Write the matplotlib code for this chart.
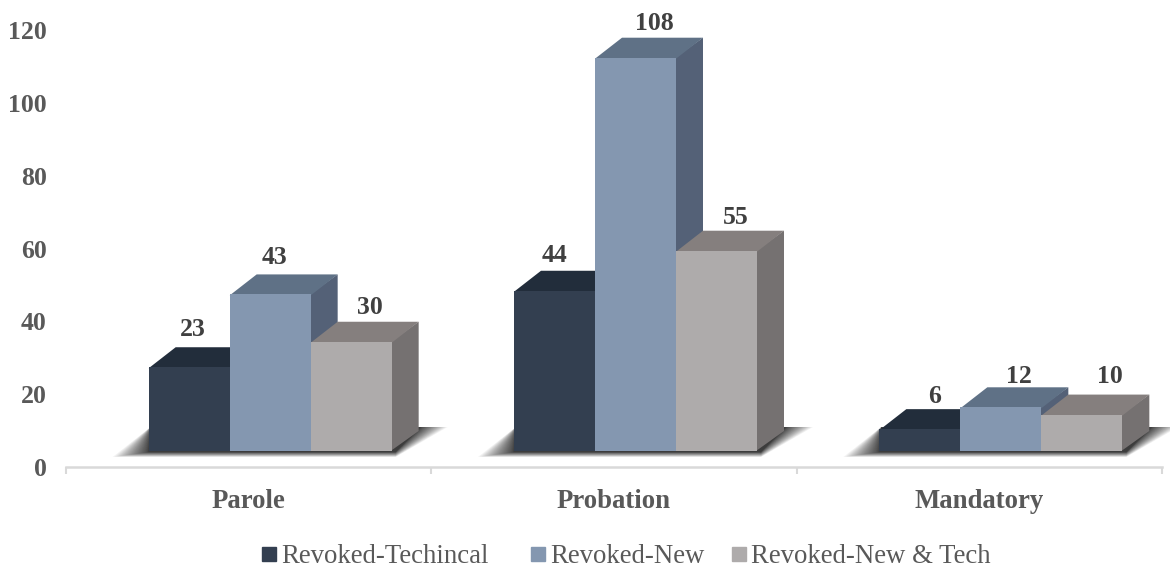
import matplotlib
matplotlib.use("Agg")
import matplotlib.pyplot as plt
from matplotlib.lines import Line2D

plt.rcParams['font.family'] = ['Liberation Serif', 'DejaVu Serif']

categories = ['Parole', 'Probation', 'Mandatory']
series_names = ['Revoked-Techincal', 'Revoked-New', 'Revoked-New & Tech']
techincal = [23, 44, 6]
new = [43, 108, 12]
new_tech = [30, 55, 10]
yticks = [0, 20, 40, 60, 80, 100, 120]

front = ['#333f50', '#8497b0', '#aeabab']
top = ['#222d3b', '#5f7186', '#857f7e']
side = ['#232c38', '#546177', '#757171']

# label nudges in pixels (x, y above the front top edge)
nudge = [[(4, 37.5), (4, 36.5), (19, 34.5)],
         [(0, 35.5), (19, 34.5), (19, 33.5)],
         [(15, 32.5), (18, 30.5), (28, 38.5)]]
# left pixel of each legend entry, they are not evenly spaced in the original
legend_x = [262, 531, 732]

W, H = 1170, 567
fig = plt.figure(figsize=(W / 100, H / 100), dpi=100)
ax = fig.add_axes([66 / W, 1 - 467 / H, (1162 - 66) / W, (467 - 30) / H])
ax.set_xlim(-0.5, 2.5)
ax.set_ylim(0, 120)

px = 3 / (1162 - 66)     # data units per pixel, x
py = 120 / (467 - 30)    # data units per pixel, y
bar_w = 81 * px
dx, dy = 27 * px, 20 * py
floor = 16 * py
shift = 21.5 * px

for i, cat in enumerate(categories):
    left = i + shift - 1.5 * bar_w
    right = left + 3 * bar_w
    # soft floor shadow, built from stacked translucent shapes, denser near the bars
    steps = 40
    for s in range(steps):
        k = (1 - s / steps) ** 2
        low = floor - (1 + 5 * k) * py
        ax.fill([left - 36 * k * px, right + 4 * px, right + dx + 2 * px + 27 * k * px,
                 right + dx, left + dx, left + 2 * px],
                [low, low, floor + dy + 4 * py, floor + dy + 4 * py, floor + dy,
                 floor + 24 * py],
                color='#2a2a2a', alpha=0.05, lw=0, zorder=1, clip_on=False)

zo = 2
for i, cat in enumerate(categories):
    for j, vals in enumerate([techincal, new, new_tech]):
        x0 = i + shift - 1.5 * bar_w + j * bar_w
        x1 = x0 + bar_w
        y0 = floor
        y1 = floor + vals[i]
        # side and top run 1px under the front face so no seam shows
        ax.fill([x1 - px, x1 + dx, x1 + dx, x1 - px], [y0, y0 + dy, y1 + dy, y1],
                color=side[j], lw=0, zorder=zo)
        ax.fill([x0, x1, x1 + dx, x0 + dx], [y1 - py, y1 - py, y1 + dy, y1 + dy],
                color=top[j], lw=0, zorder=zo)
        ax.bar((x0 + x1) / 2, vals[i], bottom=y0, width=bar_w, color=front[j],
               lw=0, zorder=zo)
        zo += 1
        nx, ny = nudge[i][j]
        ax.text((x0 + x1) / 2 + nx * px, y1 + ny * py, str(vals[i]), ha='center',
                va='center', fontsize=18.5, fontweight='bold', color='#404040', zorder=50)

for s in ['left', 'right', 'top']:
    ax.spines[s].set_visible(False)
ax.spines['bottom'].set_color('#d9d9d9')
ax.spines['bottom'].set_linewidth(1.8)

ax.set_xticks([-0.5, 0.5, 1.5, 2.5])
ax.set_xticklabels([])
ax.tick_params(axis='x', length=5, width=1.5, color='#d9d9d9')
ax.set_xticks(range(3), categories, minor=True)
ax.tick_params(axis='x', which='minor', length=0, pad=16, labelsize=19.3, labelcolor='#595959')
for t in ax.get_xticklabels(minor=True):
    t.set_fontweight('bold')

ax.set_yticks(yticks)
ax.tick_params(axis='y', length=0, pad=14, labelsize=18.5, labelcolor='#595959')
for t in ax.get_yticklabels():
    t.set_fontweight('bold')

for name, c, lx in zip(series_names, front, legend_x):
    h = Line2D([], [], ls='', marker='s', ms=9.4, color=c)
    fig.legend([h], [name], loc='center left', bbox_to_anchor=(lx / W, 1 - 556.5 / H),
               frameon=False, fontsize=19.3, labelcolor='#595959', handletextpad=0.21,
               handlelength=0.5, borderpad=0, borderaxespad=0)

fig.savefig('out.png', dpi=100)
